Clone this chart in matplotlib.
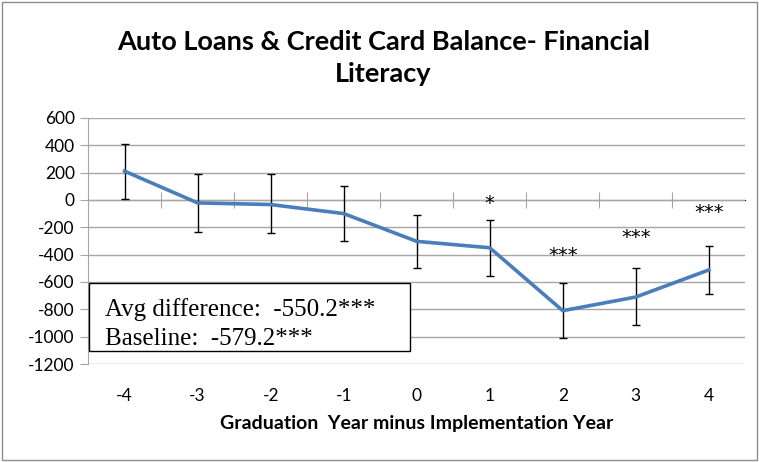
import matplotlib.pyplot as plt
import matplotlib.patches as mpatches
from matplotlib.ticker import MultipleLocator, FixedLocator

# data
years = [-4, -3, -2, -1, 0, 1, 2, 3, 4]
estimate = [210, -22, -34, -100, -303, -350, -810, -710, -512]
err_upper = [410, 188, 188, 105, -108, -149, -606, -500, -337]
err_lower = [10, -232, -244, -300, -496, -557, -1013, -918, -686]
stars = ['', '', '', '', '', '*', '***', '***', '***']
star_base = [0, 0, 0, 0, 0, -65, -445, -317, -135]  # baseline of the star labels
box_lines = ['Avg difference:  -550.2***', 'Baseline:  -579.2***']

plt.rcParams['axes.unicode_minus'] = False
sans = ['Lato', 'DejaVu Sans']
serif = ['Liberation Serif', 'DejaVu Serif']

fig = plt.figure(figsize=(7.59, 4.62), dpi=100)
ax = fig.add_axes([0.116, 0.212, 0.866, 0.533])

yerr = [[e - lo for e, lo in zip(estimate, err_lower)],
        [hi - e for e, hi in zip(estimate, err_upper)]]
ax.errorbar(years, estimate, yerr=yerr, color='#4a7ebb', linewidth=2.6,
            ecolor='black', elinewidth=1.0, capsize=3, capthick=1.0, zorder=3)

for x, s, y in zip(years, stars, star_base):
    if s:
        ax.text(x, y, s, ha='center', va='baseline', fontsize=14,
                family='DejaVu Sans')

ax.set_xlim(-4.5, 4.5)
ax.set_ylim(-1200, 600)
ax.yaxis.set_major_locator(MultipleLocator(200))
ax.grid(axis='y', color='#a6a6a6', linewidth=1.0)
ax.set_axisbelow(True)

for side in ['top', 'right', 'bottom']:
    ax.spines[side].set_visible(False)
ax.spines['left'].set_color('#a6a6a6')

ax.set_xticks(years)
ax.set_xticklabels([str(y) for y in years], family=sans, fontsize=12.5)
ax.tick_params(axis='x', length=0, pad=17)
ax.tick_params(axis='y', length=6, color='#a6a6a6', labelsize=12.5)
for lab in ax.get_yticklabels():
    lab.set_family(sans)

# horizontal axis line at zero with tick marks between categories
zero_ax = ax.secondary_xaxis(2 / 3)
zero_ax.spines['bottom'].set_color('#a6a6a6')
zero_ax.spines['bottom'].set_linewidth(1.0)
zero_ax.xaxis.set_major_locator(FixedLocator([y + 0.5 for y in years[:-1]]))
zero_ax.tick_params(axis='x', direction='inout', length=12, color='#a6a6a6',
                    labelbottom=False, labeltop=False)

ax.set_xlabel('Graduation  Year minus Implementation Year', family=sans,
              fontsize=14, fontweight='bold', labelpad=8)

fig.suptitle('Auto Loans & Credit Card Balance- Financial\nLiteracy',
             x=0.505, y=0.935, family=sans, fontsize=19.5, fontweight='bold',
             linespacing=1.42)

# text box with the summary numbers
ax.add_patch(mpatches.Rectangle((0.002, 0.053), 0.488, 0.276,
                                transform=ax.transAxes, facecolor='white',
                                edgecolor='black', linewidth=1.0, zorder=5))
ax.text(0.026, 0.220, box_lines[0], transform=ax.transAxes, family=serif,
        fontsize=18, va='center', ha='left', zorder=6)
ax.text(0.026, 0.102, box_lines[1], transform=ax.transAxes, family=serif,
        fontsize=18, va='center', ha='left', zorder=6)

fig.patches.append(mpatches.Rectangle((0.002, 0.004), 0.995, 0.992,
                                      transform=fig.transFigure, fill=False,
                                      edgecolor='#8c8c8c', linewidth=1.0))

fig.savefig('out.png', dpi=100)
